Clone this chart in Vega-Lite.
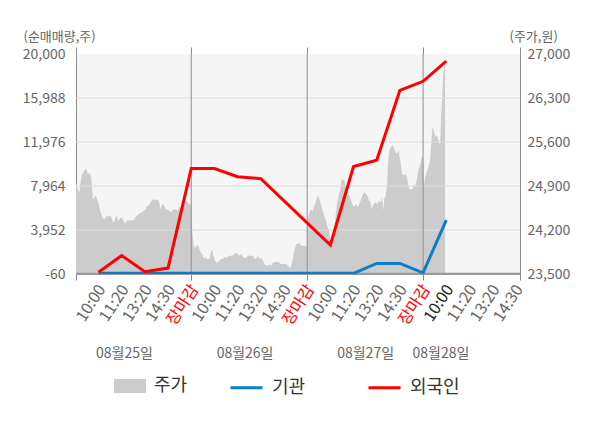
{
  "$schema": "https://vega.github.io/schema/vega-lite/v6.json",
  "width": 444,
  "height": 220,
  "autosize": "none",
  "padding": {"left": 76, "top": 54, "right": 80, "bottom": 154},
  "background": "#ffffff",
  "config": {
    "font": "Noto Sans CJK KR",
    "view": {"fill": "#f5f5f5", "stroke": null},
    "axis": {
      "labelFont": "Noto Sans CJK KR",
      "titleFont": "Noto Sans CJK KR",
      "labelFontSize": 14,
      "labelColor": "#666666",
      "titleColor": "#666666",
      "titleFontSize": 13,
      "titleFontWeight": "normal",
      "grid": false,
      "domainColor": "#8c8c8c",
      "tickColor": "#8c8c8c"
    },
    "legend": {"labelFont": "Noto Sans CJK KR", "labelFontSize": 18, "labelColor": "#333333"}
  },
  "datasets": {
    "price": [
      {"t": -1.0, "p": 25150}, {"t": -0.969, "p": 24960}, {"t": -0.899, "p": 24860}, {"t": -0.825, "p": 24780},
      {"t": -0.781, "p": 24940}, {"t": -0.724, "p": 25070}, {"t": -0.649, "p": 25120}, {"t": -0.561, "p": 25180},
      {"t": -0.504, "p": 25150}, {"t": -0.461, "p": 25100}, {"t": -0.355, "p": 25100}, {"t": -0.311, "p": 25020},
      {"t": -0.268, "p": 24830}, {"t": -0.241, "p": 24680}, {"t": -0.167, "p": 24720}, {"t": -0.123, "p": 24750},
      {"t": -0.066, "p": 24690}, {"t": -0.004, "p": 24640}, {"t": 0.053, "p": 24530}, {"t": 0.127, "p": 24450},
      {"t": 0.197, "p": 24390}, {"t": 0.272, "p": 24370}, {"t": 0.346, "p": 24430}, {"t": 0.417, "p": 24410},
      {"t": 0.491, "p": 24430}, {"t": 0.566, "p": 24390}, {"t": 0.61, "p": 24340}, {"t": 0.667, "p": 24320},
      {"t": 0.711, "p": 24370}, {"t": 0.785, "p": 24430}, {"t": 0.855, "p": 24340}, {"t": 0.93, "p": 24390},
      {"t": 1.004, "p": 24400}, {"t": 1.075, "p": 24350}, {"t": 1.149, "p": 24300}, {"t": 1.224, "p": 24350},
      {"t": 1.368, "p": 24350}, {"t": 1.513, "p": 24350}, {"t": 1.588, "p": 24400}, {"t": 1.662, "p": 24430},
      {"t": 1.732, "p": 24450}, {"t": 1.807, "p": 24480}, {"t": 1.882, "p": 24480}, {"t": 1.952, "p": 24510},
      {"t": 2.026, "p": 24530}, {"t": 2.101, "p": 24590}, {"t": 2.171, "p": 24590}, {"t": 2.246, "p": 24640},
      {"t": 2.32, "p": 24680}, {"t": 2.39, "p": 24690}, {"t": 2.465, "p": 24670}, {"t": 2.54, "p": 24690},
      {"t": 2.61, "p": 24640}, {"t": 2.684, "p": 24530}, {"t": 2.759, "p": 24620}, {"t": 2.829, "p": 24590},
      {"t": 2.904, "p": 24540}, {"t": 2.978, "p": 24520}, {"t": 3.048, "p": 24510}, {"t": 3.123, "p": 24480},
      {"t": 3.197, "p": 24520}, {"t": 3.268, "p": 24530}, {"t": 3.342, "p": 24530}, {"t": 3.417, "p": 24500},
      {"t": 3.487, "p": 24560}, {"t": 3.561, "p": 24560}, {"t": 3.706, "p": 24610}, {"t": 3.781, "p": 24660},
      {"t": 3.855, "p": 24640}, {"t": 3.925, "p": 24610}, {"t": 4.0, "p": 24590},
      {"t": 4.022, "p": 24290}, {"t": 4.099, "p": 23950}, {"t": 4.172, "p": 23910}, {"t": 4.259, "p": 23970},
      {"t": 4.315, "p": 23930}, {"t": 4.375, "p": 23870}, {"t": 4.431, "p": 23840}, {"t": 4.504, "p": 23790},
      {"t": 4.547, "p": 23740}, {"t": 4.603, "p": 23770}, {"t": 4.659, "p": 23740}, {"t": 4.72, "p": 23740},
      {"t": 4.789, "p": 23740}, {"t": 4.862, "p": 23870}, {"t": 4.905, "p": 23890}, {"t": 4.948, "p": 23800},
      {"t": 5.004, "p": 23740}, {"t": 5.078, "p": 23680}, {"t": 5.151, "p": 23690}, {"t": 5.22, "p": 23710},
      {"t": 5.293, "p": 23740}, {"t": 5.366, "p": 23740}, {"t": 5.435, "p": 23770}, {"t": 5.509, "p": 23760},
      {"t": 5.582, "p": 23770}, {"t": 5.651, "p": 23790}, {"t": 5.724, "p": 23790}, {"t": 5.797, "p": 23790},
      {"t": 5.866, "p": 23830}, {"t": 5.94, "p": 23830}, {"t": 6.013, "p": 23820}, {"t": 6.082, "p": 23790},
      {"t": 6.155, "p": 23820}, {"t": 6.228, "p": 23770}, {"t": 6.297, "p": 23750}, {"t": 6.371, "p": 23760},
      {"t": 6.444, "p": 23790}, {"t": 6.513, "p": 23790}, {"t": 6.586, "p": 23790}, {"t": 6.659, "p": 23790},
      {"t": 6.728, "p": 23740}, {"t": 6.802, "p": 23740}, {"t": 6.875, "p": 23790}, {"t": 6.944, "p": 23740},
      {"t": 7.017, "p": 23760}, {"t": 7.091, "p": 23710}, {"t": 7.159, "p": 23660}, {"t": 7.233, "p": 23640},
      {"t": 7.306, "p": 23630}, {"t": 7.375, "p": 23660}, {"t": 7.448, "p": 23630}, {"t": 7.522, "p": 23680},
      {"t": 7.591, "p": 23690}, {"t": 7.664, "p": 23690}, {"t": 7.737, "p": 23690}, {"t": 7.806, "p": 23680},
      {"t": 7.879, "p": 23660}, {"t": 7.953, "p": 23660}, {"t": 8.022, "p": 23660}, {"t": 8.095, "p": 23660},
      {"t": 8.168, "p": 23630}, {"t": 8.237, "p": 23610}, {"t": 8.28, "p": 23590}, {"t": 8.341, "p": 23660},
      {"t": 8.384, "p": 23740}, {"t": 8.453, "p": 23890}, {"t": 8.526, "p": 23970}, {"t": 8.599, "p": 23990},
      {"t": 8.668, "p": 23990}, {"t": 8.741, "p": 23950}, {"t": 8.815, "p": 23950}, {"t": 8.884, "p": 23950},
      {"t": 8.957, "p": 23950}, {"t": 9.0, "p": 23950},
      {"t": 9.03, "p": 24370}, {"t": 9.098, "p": 24480}, {"t": 9.141, "p": 24510}, {"t": 9.201, "p": 24530},
      {"t": 9.244, "p": 24480}, {"t": 9.286, "p": 24560}, {"t": 9.342, "p": 24610}, {"t": 9.385, "p": 24670},
      {"t": 9.427, "p": 24720}, {"t": 9.483, "p": 24750}, {"t": 9.526, "p": 24690}, {"t": 9.568, "p": 24640},
      {"t": 9.628, "p": 24560}, {"t": 9.671, "p": 24510}, {"t": 9.714, "p": 24450}, {"t": 9.769, "p": 24390},
      {"t": 9.812, "p": 24350}, {"t": 9.855, "p": 24270}, {"t": 9.91, "p": 24210}, {"t": 9.953, "p": 24180},
      {"t": 9.996, "p": 24050}, {"t": 10.056, "p": 24030}, {"t": 10.098, "p": 24080}, {"t": 10.167, "p": 24210},
      {"t": 10.209, "p": 24370}, {"t": 10.282, "p": 24590}, {"t": 10.338, "p": 24720}, {"t": 10.423, "p": 24830},
      {"t": 10.483, "p": 25000}, {"t": 10.594, "p": 25000}, {"t": 10.654, "p": 24880}, {"t": 10.709, "p": 24770},
      {"t": 10.765, "p": 24750}, {"t": 10.825, "p": 24750}, {"t": 10.88, "p": 24690}, {"t": 10.953, "p": 24610},
      {"t": 11.021, "p": 24570}, {"t": 11.094, "p": 24610}, {"t": 11.167, "p": 24570}, {"t": 11.235, "p": 24600},
      {"t": 11.308, "p": 24670}, {"t": 11.381, "p": 24750}, {"t": 11.449, "p": 24800}, {"t": 11.521, "p": 24780},
      {"t": 11.594, "p": 24750}, {"t": 11.663, "p": 24670}, {"t": 11.735, "p": 24640}, {"t": 11.778, "p": 24530},
      {"t": 11.834, "p": 24590}, {"t": 11.876, "p": 24610}, {"t": 11.949, "p": 24640}, {"t": 12.022, "p": 24610},
      {"t": 12.09, "p": 24670}, {"t": 12.162, "p": 24640}, {"t": 12.235, "p": 24720}, {"t": 12.278, "p": 24510},
      {"t": 12.333, "p": 24720}, {"t": 12.376, "p": 24720}, {"t": 12.449, "p": 24930}, {"t": 12.492, "p": 25280},
      {"t": 12.547, "p": 25470}, {"t": 12.62, "p": 25520}, {"t": 12.675, "p": 25550}, {"t": 12.731, "p": 25520},
      {"t": 12.803, "p": 25440}, {"t": 12.876, "p": 25410}, {"t": 12.944, "p": 25470}, {"t": 12.987, "p": 25360},
      {"t": 13.047, "p": 25230}, {"t": 13.09, "p": 25090}, {"t": 13.158, "p": 25070}, {"t": 13.231, "p": 25090},
      {"t": 13.304, "p": 25040}, {"t": 13.347, "p": 24930}, {"t": 13.402, "p": 24850}, {"t": 13.475, "p": 24850},
      {"t": 13.543, "p": 24850}, {"t": 13.616, "p": 24930}, {"t": 13.659, "p": 24880}, {"t": 13.731, "p": 25010},
      {"t": 13.8, "p": 25170}, {"t": 13.872, "p": 25230}, {"t": 13.945, "p": 25360}, {"t": 13.988, "p": 25360},
      {"t": 14.043, "p": 24910}, {"t": 14.086, "p": 25040}, {"t": 14.159, "p": 25120}, {"t": 14.228, "p": 25200},
      {"t": 14.302, "p": 25310}, {"t": 14.375, "p": 25710}, {"t": 14.418, "p": 25850}, {"t": 14.474, "p": 25760},
      {"t": 14.53, "p": 25680}, {"t": 14.591, "p": 25710}, {"t": 14.659, "p": 25630}, {"t": 14.733, "p": 25550},
      {"t": 14.776, "p": 25970}, {"t": 14.832, "p": 26400}, {"t": 14.875, "p": 26690}, {"t": 14.918, "p": 26820},
      {"t": 14.948, "p": 26820}
    ],
    "flow": [
      {"idx": 0, "series": "기관", "v": 0}, {"idx": 1, "series": "기관", "v": 0}, {"idx": 2, "series": "기관", "v": 0},
      {"idx": 3, "series": "기관", "v": 0}, {"idx": 4, "series": "기관", "v": 0}, {"idx": 5, "series": "기관", "v": 0},
      {"idx": 6, "series": "기관", "v": 0}, {"idx": 7, "series": "기관", "v": 0}, {"idx": 8, "series": "기관", "v": 0},
      {"idx": 9, "series": "기관", "v": 0}, {"idx": 10, "series": "기관", "v": 0}, {"idx": 11, "series": "기관", "v": 0},
      {"idx": 12, "series": "기관", "v": 900}, {"idx": 13, "series": "기관", "v": 900}, {"idx": 14, "series": "기관", "v": 50},
      {"idx": 15, "series": "기관", "v": 4860},
      {"idx": 0, "series": "외국인", "v": 100}, {"idx": 1, "series": "외국인", "v": 1620}, {"idx": 2, "series": "외국인", "v": 150},
      {"idx": 3, "series": "외국인", "v": 480}, {"idx": 4, "series": "외국인", "v": 9560}, {"idx": 5, "series": "외국인", "v": 9560},
      {"idx": 6, "series": "외국인", "v": 8810}, {"idx": 7, "series": "외국인", "v": 8630}, {"idx": 10, "series": "외국인", "v": 2580},
      {"idx": 11, "series": "외국인", "v": 9740}, {"idx": 12, "series": "외국인", "v": 10310}, {"idx": 13, "series": "외국인", "v": 16690},
      {"idx": 14, "series": "외국인", "v": 17510}, {"idx": 15, "series": "외국인", "v": 19360}
    ],
    "grid": [{"v": 3952}, {"v": 7964}, {"v": 11976}, {"v": 15988}],
    "sep": [{"idx": 4}, {"idx": 9}, {"idx": 14}]
  },
  "layer": [
    {
      "data": {"name": "price"},
      "mark": {"type": "area", "clip": true},
      "encoding": {
        "x": {
          "field": "t",
          "type": "quantitative",
          "scale": {"domain": [-0.97, 18.18], "nice": false, "zero": false},
          "axis": {
            "orient": "bottom",
            "title": null,
            "values": [-0.97, 0, 1, 2, 3, 4, 5, 6, 7, 8, 9, 10, 11, 12, 13, 14, 15, 16, 17, 18, 18.18],
            "labelExpr": "datum.value < 0 || datum.value > 18.1 ? '' : ['10:00','11:20','13:20','14:30','장마감'][datum.value % 5]",
            "labelAngle": -57,
            "labelAlign": "right",
            "labelBaseline": "middle",
            "labelFontSize": 16,
            "labelPadding": 6,
            "labelOffset": 3,
            "labelOverlap": false,
            "labelFlush": false,
            "labelBound": false,
            "labelColor": {
              "condition": [
                {"test": "datum.value % 5 == 4", "value": "#ff0000"},
                {"test": "datum.value == 15", "value": "#222222"}
              ],
              "value": "#666666"
            },
            "tickSize": 6,
            "tickColor": {
              "condition": {"test": "datum.value % 5 == 4 || datum.value < 0 || datum.value > 18.1", "value": "#8c8c8c"},
              "value": "transparent"
            },
            "domainColor": "#999999"
          }
        },
        "y": {
          "field": "p",
          "type": "quantitative",
          "scale": {"domain": [23500, 27000], "zero": false, "nice": false},
          "axis": {
            "orient": "right",
            "values": [23500, 24200, 24900, 25600, 26300, 27000],
            "format": ",.0f",
            "ticks": false,
            "labelPadding": 7,
            "title": "(주가,원)",
            "titleAngle": 0,
            "titleAlign": "left",
            "titleBaseline": "middle",
            "titleX": -11,
            "titleY": -18
          }
        },
        "fill": {
          "datum": "주가",
          "type": "nominal",
          "scale": {"domain": ["주가"], "range": ["#cccccc"]},
          "legend": {
            "orient": "none",
            "legendX": 38,
            "legendY": 316,
            "direction": "horizontal",
            "title": null,
            "padding": 0,
            "labelOffset": 8,
            "symbolType": "M-1,-0.44H1V0.44H-1Z",
            "symbolSize": 1024,
            "symbolStrokeWidth": 0,
            "symbolOpacity": 1
          }
        }
      }
    },
    {
      "data": {"name": "grid"},
      "mark": {"type": "rule", "color": "#dddddd", "strokeWidth": 1},
      "encoding": {
        "y": {
          "field": "v",
          "type": "quantitative",
          "scale": {"domain": [-60, 20000], "nice": false, "zero": false},
          "axis": {
            "orient": "left",
            "values": [-60, 3952, 7964, 11976, 15988, 20000],
            "format": ",.0f",
            "labelExpr": "replace(datum.label, '\u2212', '-')",
            "ticks": false,
            "labelPadding": 11,
            "title": "(순매매량,주)",
            "titleAngle": 0,
            "titleAlign": "left",
            "titleBaseline": "middle",
            "titleX": -53,
            "titleY": -18
          }
        }
      }
    },
    {
      "data": {"name": "sep"},
      "mark": {"type": "rule", "color": "#8c8c8c", "strokeWidth": 1},
      "encoding": {
        "x": {
          "field": "idx",
          "type": "quantitative",
          "scale": {"domain": [-0.97, 18.18], "nice": false, "zero": false},
          "axis": {
            "orient": "top",
            "title": null,
            "values": [-0.97, 4, 9, 14, 18.18],
            "labels": false,
            "domain": false,
            "ticks": true,
            "tickSize": 7,
            "tickColor": "#8c8c8c"
          }
        }
      }
    },
    {
      "data": {"values": [{}]},
      "mark": {"type": "rule", "color": "#999999", "strokeWidth": 1.3},
      "encoding": {
        "y": {"datum": 0, "type": "quantitative", "scale": {"domain": [-60, 20000], "nice": false, "zero": false}, "axis": null}
      }
    },
    {
      "data": {"name": "flow"},
      "mark": {"type": "line", "strokeWidth": 3, "clip": true},
      "encoding": {
        "x": {
          "field": "idx",
          "type": "quantitative",
          "scale": {"domain": [-0.97, 18.18], "nice": false, "zero": false},
          "axis": {
            "orient": "bottom",
            "title": null,
            "values": [1.1, 6.3, 11.5, 14.75],
            "labelExpr": "datum.value < 3 ? '08월25일' : datum.value < 8 ? '08월26일' : datum.value < 13 ? '08월27일' : '08월28일'",
            "labelAngle": 0,
            "labelAlign": "center",
            "labelPadding": 72,
            "labelFontSize": 14,
            "labelFlush": false,
            "labelOverlap": false,
            "domain": false,
            "ticks": false,
            "tickSize": 0
          }
        },
        "y": {"field": "v", "type": "quantitative", "scale": {"domain": [-60, 20000], "nice": false, "zero": false}, "axis": null},
        "stroke": {
          "field": "series",
          "type": "nominal",
          "scale": {"domain": ["기관", "외국인"], "range": ["#0a7ecb", "#ff0000"]},
          "legend": {
            "orient": "none",
            "legendX": 153,
            "legendY": 316,
            "direction": "horizontal",
            "title": null,
            "padding": 0,
            "labelOffset": 8,
            "columnPadding": 56,
            "symbolType": "stroke",
            "symbolSize": 1024,
            "symbolStrokeWidth": 3
          }
        }
      }
    }
  ],
  "resolve": {"scale": {"y": "independent"}, "axis": {"x": "independent", "y": "independent"}}
}
